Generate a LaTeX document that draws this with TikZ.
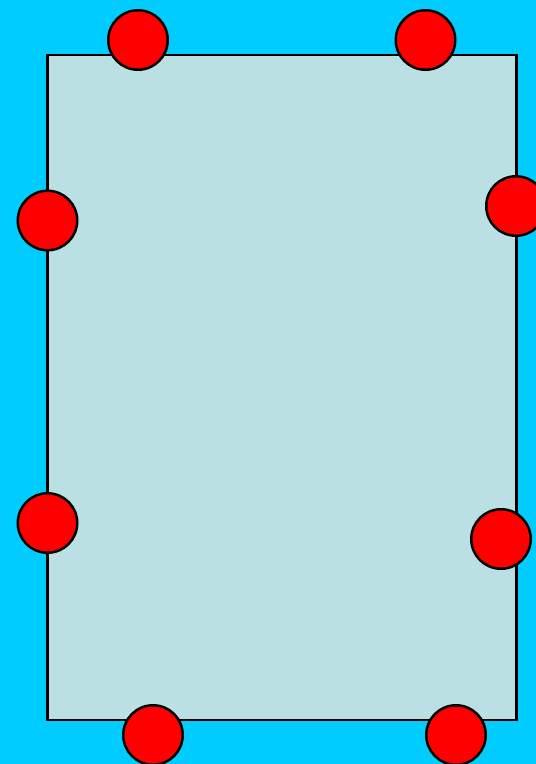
\documentclass[tikz,border=0pt]{standalone}
\definecolor{bgcyan}{RGB}{0,204,255}
\definecolor{panel}{RGB}{186,224,227}
\definecolor{dotred}{RGB}{255,0,0}
\tikzset{
  dot/.style={circle, draw=black, line width=2.5pt, fill=dotred, minimum size=59.5pt, inner sep=0pt},
  panelbox/.style={draw=black, line width=2.5pt, fill=panel}
}
\begin{document}
\begin{tikzpicture}[x=1pt,y=-1pt]
\fill[bgcyan] (0,0) rectangle (536,764);
\useasboundingbox (0,0) rectangle (536,764);
\draw[panelbox] (47.5,55) rectangle (516.5,720);
\node[dot] (c1) at (138,40) {};
\node[dot] (c2) at (425.5,40) {};
\node[dot] (c3) at (47.5,220.5) {};
\node[dot] (c4) at (516,206) {};
\node[dot] (c5) at (47.5,523) {};
\node[dot] (c6) at (501,539) {};
\node[dot] (c7) at (153,735) {};
\node[dot] (c8) at (456,735) {};
\end{tikzpicture}
\end{document}
